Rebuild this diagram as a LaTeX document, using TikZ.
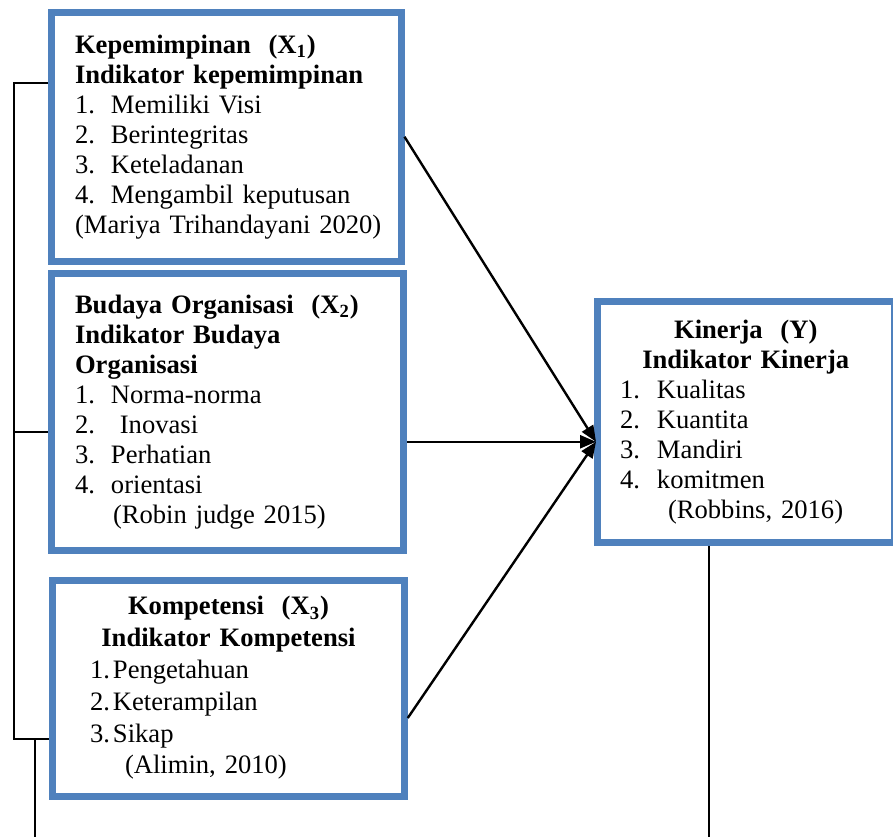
\documentclass[tikz,border=0pt]{standalone}
\usepackage{fontspec}
\setmainfont{Liberation Serif}
\usetikzlibrary{arrows.meta,calc,positioning}
\definecolor{boxblue}{HTML}{4F81BD}
\setlength{\parindent}{0pt}
\newcommand{\itm}[2][18pt]{\makebox[#1][l]{#2}}

\begin{document}
\begin{tikzpicture}[x=0.5pt,y=-0.5pt,
  font=\fontsize{13.3}{15}\selectfont,
  varbox/.style={draw=boxblue,line width=3.5pt,align=left,inner sep=0pt},
  link/.style={line width=0.75pt},
  flow/.style={line width=1.2pt,-{Triangle[length=8pt,width=6.5pt]}}]
\useasboundingbox (0,0) rectangle (893,837);
% the variable boxes
\node[varbox,minimum width=174.75pt,minimum height=124.25pt,text width=151.25pt] (kep) at (226.25,136.75) {%
\textbf{Kepemimpinan\ \ (X\textsubscript{1})}\\
\textbf{Indikator kepemimpinan}\\
\itm{1.}Memiliki Visi\\
\itm{2.}Berintegritas\\
\itm{3.}Keteladanan\\
\itm{4.}Mengambil keputusan\\
\makebox[0pt][l]{(Mariya Trihandayani 2020)}};
\node[varbox,minimum width=176pt,minimum height=138.25pt,text width=152.5pt] (bud) at (227.5,411.75) {%
\textbf{Budaya Organisasi\ \ (X\textsubscript{2})}\\
\textbf{Indikator Budaya}\\
\textbf{Organisasi}\\
\itm{1.}Norma-norma\\
\itm{2.}\ Inovasi\\
\itm{3.}Perhatian\\
\itm{4.}orientasi\\
\hspace*{19pt}(Robin judge 2015)};
\node[varbox,minimum width=175.75pt,minimum height=108pt,text width=153.5pt,
  font=\fontsize{13.3}{15.9}\selectfont] (kom) at (228.5,688) {%
{\centering\bfseries Kompetensi\ \ (X\textsubscript{3})\\ Indikator Kompetensi\par}
\hspace*{7.5pt}\itm[11.5pt]{1.}Pengetahuan\\
\hspace*{7.5pt}\itm[11.5pt]{2.}Keterampilan\\
\hspace*{7.5pt}\itm[11.5pt]{3.}Sikap\\
\hspace*{25pt}(Alimin, 2010)};
\node[varbox,minimum width=148.25pt,minimum height=120.25pt,text width=125.75pt] (kin) at (745.75,421.75) {%
{\centering\bfseries Kinerja\ \ (Y)\\ Indikator Kinerja\par}
\itm[18.5pt]{1.}Kualitas\\
\itm[18.5pt]{2.}Kuantita\\
\itm[18.5pt]{3.}Mandiri\\
\itm[18.5pt]{4.}komitmen\\
\hspace*{24pt}(Robbins, 2016)};
% the bracket on the left
\coordinate (lt) at (14,83);
\coordinate (lm) at (14,432);
\coordinate (lb) at (14,739);
\coordinate (ld) at (35,837);
\coordinate (rd) at (709,837);
\draw[link] (kep.west |- lt) -- (lt) -- (lb) -- (kom.west |- lb);
\draw[link] (lm) -- (bud.west |- lm);
\draw[link] (ld |- lb) -- (ld);
\draw[link] (rd |- kin.south) -- (rd);
% arrows into Kinerja
\coordinate (hub) at ($(kin.west)+(2,20)$);
\draw[flow] (kep.east) -- (hub);
\draw[flow] (bud.east |- hub) -- (hub);
\draw[flow] ($(kom.east)+(0,30)$) -- (hub);
\end{tikzpicture}
\end{document}
